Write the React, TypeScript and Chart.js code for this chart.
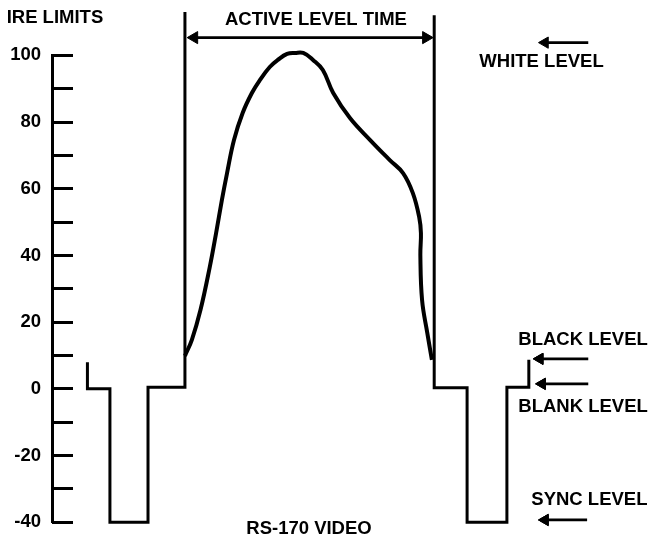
import React, { useEffect, useRef } from 'react';
import { Chart, registerables } from 'chart.js';

Chart.register(...registerables);

const FONT = '"Liberation Sans", Arial, Helvetica, sans-serif';
const FONT_SIZE = 18.5;

// IRE scale
const ireMin = -40;
const ireMax = 100;
const ireLabelStep = 20;
const ireTickStep = 10;

// time axis (arbitrary units across one line period)
const timeMin = 0;
const timeMax = 100;

// horizontal blanking before active video
const blankLeftT = [2.5, 2.5, 6.4, 6.4, 13.0, 13.0, 19.4, 19.4];
const blankLeftIRE = [8, 0, 0, -40, -40, 0.5, 0.5, 113];

// horizontal blanking after active video
const blankRightT = [62.6, 62.6, 68.3, 68.3, 75.2, 75.2, 79.0, 79.0];
const blankRightIRE = [112, 0.3, 0.3, -40, -40, 0.5, 0.5, 8.7];

// active video signal
const activeT = [
  19.4, 20.6, 22.1, 23.7, 24.8, 25.8, 26.7, 27.9, 29.4, 31.0, 32.4, 34.1, 35.5,
  37.1, 38.5, 39.9, 41.6, 43.3, 45.1, 48.0, 51.5, 54.9, 57.2, 58.9, 60.0, 60.3,
  60.2, 60.5, 61.4, 62.2,
];
const activeIRE = [
  9.9, 14.7, 23.7, 36.5, 46.7, 56.6, 64.7, 74.6, 82.7, 88.7, 92.6, 96.5, 98.6,
  100.4, 100.7, 100.7, 98.6, 95.6, 88.7, 81.2, 74.6, 68.6, 64.7, 58.7, 51.5, 46.7,
  40.1, 26.6, 16.8, 8.7,
];

// "active level time" double arrow
const activeSpanT = [21.0, 61.2];
const activeSpanIRE = 105.3;

// level indicator arrows
const levelArrowIRE = [103.8, 9.0, 1.5, -39.3];
const levelArrowHeadT = [81.8, 80.9, 81.3, 81.8];
const levelArrowTailT = [89.3, 89.3, 89.3, 89.1];

// text annotations
const noteTexts = [
  'IRE LIMITS',
  'ACTIVE LEVEL TIME',
  'WHITE LEVEL',
  'BLACK LEVEL',
  'BLANK LEVEL',
  'SYNC LEVEL',
  'RS-170 VIDEO',
];
const noteT = [-11.5, 42.1, 81.2, 88.4, 88.4, 89.5, 40.9];
const noteIRE = [111.2, 110.6, 98.1, 14.6, -5.5, -33.2, -41.9];
const noteAlign = ['left', 'center', 'center', 'center', 'center', 'center', 'center'];

const toPoints = (ts: number[], vs: number[]) => ts.map((t, i) => ({ x: t, y: vs[i] }));

const lineDs = (data: { x: number; y: number }[], width: number, tension = 0) => ({
  data,
  borderColor: '#000',
  backgroundColor: '#000',
  borderWidth: width,
  pointRadius: 0,
  tension,
  fill: false,
  clip: false as const,
  borderJoinStyle: 'miter' as const,
  borderCapStyle: 'butt' as const,
});

const arrowDs = (
  data: { x: number; y: number }[],
  radii: number[],
  rotations: number[]
) => ({
  label: 'arrow',
  data,
  borderColor: '#000',
  backgroundColor: '#000',
  borderWidth: 2.7,
  pointStyle: 'triangle' as const,
  pointRadius: radii,
  pointRotation: rotations,
  pointBackgroundColor: '#000',
  pointBorderColor: '#000',
  pointBorderWidth: 1,
  tension: 0,
  fill: false,
  clip: false as const,
});

// arrow heads may sit outside the plot area: draw them with the library's own point elements
const arrowHeadPlugin = {
  id: 'arrowHeads',
  afterDatasetsDraw(chart: any) {
    const { ctx } = chart;
    const wide = { left: -1e5, top: -1e5, right: 1e5, bottom: 1e5 };
    chart.data.datasets.forEach((ds: any, i: number) => {
      if (ds.label !== 'arrow') return;
      const meta = chart.getDatasetMeta(i);
      meta.data.forEach((pt: any) => pt.draw(ctx, wide));
    });
  },
};

const notesPlugin = {
  id: 'waveNotes',
  afterDatasetsDraw(chart: any) {
    const { ctx } = chart;
    const xs = chart.scales.x;
    const ys = chart.scales.y;
    ctx.save();
    ctx.fillStyle = '#000';
    ctx.font = `bold ${FONT_SIZE}px ${FONT}`;
    ctx.textBaseline = 'middle';
    noteTexts.forEach((txt, i) => {
      ctx.textAlign = noteAlign[i];
      ctx.fillText(txt, xs.getPixelForValue(noteT[i]), ys.getPixelForValue(noteIRE[i]));
    });
    ctx.restore();
  },
};

export default function App() {
  const canvasRef = useRef<HTMLCanvasElement | null>(null);

  useEffect(() => {
    if (!canvasRef.current) return;
    const datasets: any[] = [
      lineDs(toPoints(blankLeftT, blankLeftIRE), 3),
      lineDs(toPoints(blankRightT, blankRightIRE), 3),
      lineDs(toPoints(activeT, activeIRE), 4, 0.4),
      arrowDs(
        [
          { x: activeSpanT[0], y: activeSpanIRE },
          { x: activeSpanT[1], y: activeSpanIRE },
        ],
        [7, 7],
        [270, 90]
      ),
      ...levelArrowIRE.map((v, i) =>
        arrowDs(
          [
            { x: levelArrowHeadT[i], y: v },
            { x: levelArrowTailT[i], y: v },
          ],
          [6.5, 0],
          [270, 0]
        )
      ),
    ];

    const chart = new Chart(canvasRef.current, {
      type: 'line',
      data: { datasets },
      options: {
        animation: false,
        responsive: false,
        events: [],
        layout: { autoPadding: false, padding: { top: 55.3, bottom: 12.7, left: 0, right: 0 } },
        plugins: {
          legend: { display: false },
          tooltip: { enabled: false },
          title: { display: false },
        },
        scales: {
          x: {
            type: 'linear',
            min: timeMin,
            max: timeMax,
            display: false,
          },
          y: {
            type: 'linear',
            position: 'left',
            weight: 1,
            min: ireMin,
            max: ireMax,
            afterFit: (s: any) => {
              s.width = 52;
            },
            ticks: {
              stepSize: ireLabelStep,
              color: '#000',
              padding: 0,
              font: { family: FONT, size: FONT_SIZE, weight: 'bold' },
            },
            grid: {
              display: true,
              drawOnChartArea: false,
              drawTicks: true,
              tickLength: 11,
              tickColor: 'rgba(0,0,0,0)',
            },
            border: { display: true, color: '#000', width: 3 },
          },
          y2: {
            type: 'linear',
            position: 'left',
            weight: 0,
            min: ireMin,
            max: ireMax,
            afterFit: (s: any) => {
              s.width = 21;
            },
            ticks: { display: false, stepSize: ireTickStep },
            grid: {
              display: true,
              drawOnChartArea: false,
              drawTicks: true,
              tickLength: 21,
              tickWidth: 3,
              tickColor: '#000',
            },
            border: { display: false },
          },
        },
      } as any,
      plugins: [arrowHeadPlugin, notesPlugin],
    });
    return () => chart.destroy();
  }, []);

  return (
    <div style={{ position: 'fixed', left: 0, top: 0, width: 650, height: 535, background: '#fff' }}>
      <canvas ref={canvasRef} width={650} height={535} />
    </div>
  );
}
